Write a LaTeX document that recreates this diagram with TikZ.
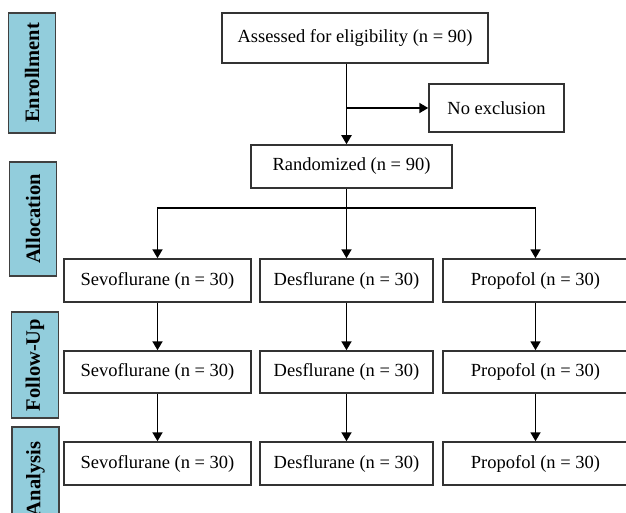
\documentclass[tikz,border=0pt]{standalone}
\usepackage{fontspec}
\setmainfont{Liberation Serif}
\usetikzlibrary{arrows.meta}
\definecolor{phaseblue}{HTML}{92CDDC}
\begin{document}
\begin{tikzpicture}[x=1pt,y=-1pt,
	box/.style={draw=black!80, line width=1.5pt, fill=white, inner sep=0pt, font=\fontsize{18.5}{20}\selectfont},
	phase/.style={draw=black!75, line width=1.5pt, fill=phaseblue, rotate=90, inner sep=0pt, minimum height=47pt, font=\fontsize{20.5}{22}\selectfont\bfseries},
	arr/.style={-{Triangle[length=9pt,width=10pt]}, line width=1.8pt}]
	\useasboundingbox (0,0) rectangle (626,513);

	\node[phase, minimum width=120pt] (enroll) at (32,73) {Enrollment};
	\node[phase, minimum width=114pt] (alloc) at (33,219) {Allocation};
	\node[phase, minimum width=106pt] (follow) at (35,365) {Follow-Up};
	\node[phase, minimum width=104pt] (analysis) at (35.5,479) {Analysis};

	\node[box, minimum width=266pt, minimum height=50pt] (assess) at (355,38) {Assessed for eligibility (n = 90)};
	\node[box, minimum width=135pt, minimum height=48pt] (noexcl) at (496.5,108) {No exclusion};
	\node[box, minimum width=201pt, minimum height=43pt] (rand) at (351.5,166.5) {Randomized (n = 90)};

	\node[box, minimum width=187pt, minimum height=43pt] (sevo1) at (157.5,280.5) {Sevoflurane (n = 30)};
	\node[box, minimum width=173pt, minimum height=43pt] (des1) at (346.5,280.5) {Desflurane (n = 30)};
	\node[box, minimum width=185pt, minimum height=43pt] (prop1) at (535.5,280.5) {Propofol (n = 30)};

	\node[box, minimum width=187pt, minimum height=42pt] (sevo2) at (157.5,372) {Sevoflurane (n = 30)};
	\node[box, minimum width=173pt, minimum height=42pt] (des2) at (346.5,372) {Desflurane (n = 30)};
	\node[box, minimum width=185pt, minimum height=42pt] (prop2) at (535.5,372) {Propofol (n = 30)};

	\node[box, minimum width=187pt, minimum height=43pt] (sevo3) at (157.5,463.5) {Sevoflurane (n = 30)};
	\node[box, minimum width=173pt, minimum height=43pt] (des3) at (346.5,463.5) {Desflurane (n = 30)};
	\node[box, minimum width=185pt, minimum height=43pt] (prop3) at (535.5,463.5) {Propofol (n = 30)};

	\coordinate (split) at (346.5,208);

	\draw[arr] (assess.south -| des1) -- (des1 |- rand.north);
	\draw[arr] (noexcl.west -| des1) -- (noexcl.west);
	\draw[arr] (rand.south -| des1) -- (des1.north);
	\draw[arr] (split) -| (sevo1.north);
	\draw[arr] (split) -| (prop1.north);

	\foreach \g in {sevo,des,prop} {
		\draw[arr] (\g1.south) -- (\g2.north);
		\draw[arr] (\g2.south) -- (\g3.north);
	}
\end{tikzpicture}
\end{document}
